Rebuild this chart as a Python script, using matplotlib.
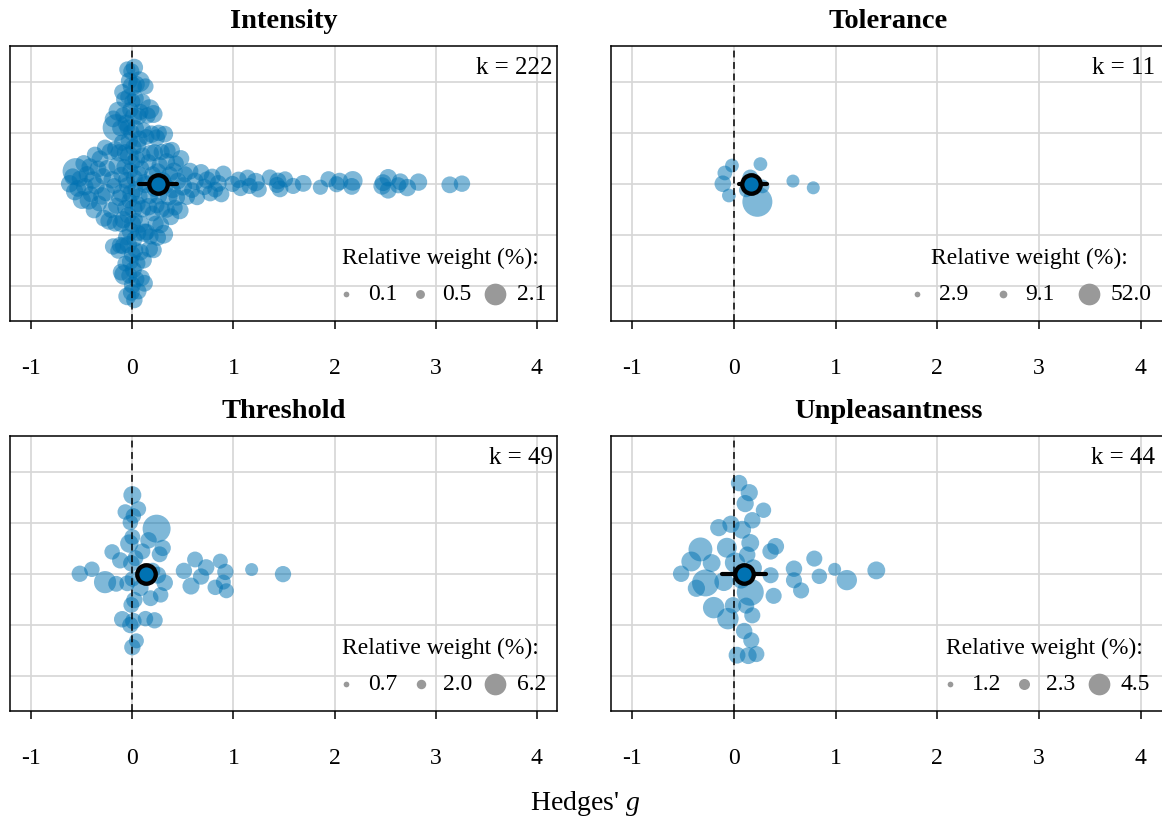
import numpy as np
import matplotlib.pyplot as plt

plt.rcParams['font.family'] = ['Liberation Serif', 'DejaVu Serif']
plt.rcParams['mathtext.fontset'] = 'custom'
plt.rcParams['mathtext.rm'] = 'Liberation Serif'
plt.rcParams['mathtext.it'] = 'Liberation Serif:italic'

# effect sizes (Hedges' g) and relative weights (%) per outcome
intensity_g = [
    -0.62, -0.59,
    -0.57, -0.56, -0.54,
    -0.52, -0.50, -0.48,
    -0.47, -0.45, -0.43,
    -0.42, -0.41, -0.39, -0.38,
    -0.37, -0.36, -0.34, -0.33,
    -0.32, -0.30, -0.29, -0.28,
    -0.27, -0.26, -0.25, -0.23,
    -0.22, -0.21, -0.20, -0.19, -0.19, -0.18,
    -0.17, -0.17, -0.16, -0.16, -0.15, -0.14, -0.14, -0.13, -0.13,
    -0.12, -0.12, -0.11, -0.11, -0.11, -0.10, -0.10, -0.10, -0.09, -0.09, -0.09,
    -0.08, -0.08, -0.08,
    -0.07, -0.07, -0.07, -0.06, -0.06, -0.06, -0.05, -0.05, -0.05, -0.05,
    -0.04, -0.04, -0.04, -0.03, -0.03, -0.03, -0.03, -0.03,
    -0.02, -0.02, -0.02, -0.02, -0.01, -0.01, -0.01, -0.01, 0.00, 0.00, 0.00,
    0.00, 0.00, 0.00, 0.01, 0.01, 0.01, 0.01, 0.02, 0.02, 0.02, 0.02,
    0.03, 0.03, 0.03, 0.03, 0.04, 0.04, 0.04, 0.04, 0.05, 0.05, 0.05,
    0.06, 0.06, 0.06, 0.06, 0.07, 0.07, 0.07,
    0.08, 0.08, 0.08, 0.09, 0.09, 0.10, 0.10, 0.10, 0.11, 0.11, 0.12, 0.12, 0.12,
    0.13, 0.13, 0.14, 0.14, 0.15, 0.16, 0.16, 0.17, 0.17, 0.17,
    0.18, 0.18, 0.19, 0.20, 0.20, 0.21, 0.21, 0.22, 0.22,
    0.23, 0.24, 0.24, 0.25, 0.25, 0.26, 0.26, 0.27,
    0.28, 0.29, 0.29, 0.30, 0.31, 0.32,
    0.33, 0.34, 0.34, 0.35, 0.36, 0.37,
    0.38, 0.39, 0.40, 0.41, 0.42,
    0.43, 0.44, 0.45, 0.47,
    0.48, 0.50, 0.52,
    0.54, 0.57, 0.59, 0.62, 0.64, 0.68, 0.71, 0.74, 0.77, 0.79, 0.82, 0.85,
    0.88, 0.90, 0.99, 1.05, 1.07, 1.14, 1.16, 1.22, 1.25, 1.36,
    1.43, 1.44, 1.46, 1.51, 1.59, 1.69, 1.86, 1.94, 2.02, 2.05,
    2.17, 2.18, 2.47, 2.48, 2.53, 2.53, 2.63, 2.65, 2.72, 2.83, 3.14, 3.26,
]
intensity_w = [
    0.30, 0.25,
    0.30, 1.90, 0.25,
    0.20, 0.35, 0.25,
    0.30, 0.22, 0.40,
    0.25, 0.20, 0.30, 0.22,
    0.20, 0.30, 0.25, 0.18,
    0.25, 0.32, 0.20, 0.25,
    0.20, 0.30, 0.26, 0.30,
    0.25, 0.20, 0.30, 0.22, 0.25, 0.18,
    0.20, 0.25, 2.10, 0.20, 0.30, 0.18, 0.50, 0.22, 0.30,
    0.25, 0.20, 0.30, 0.18, 0.25, 0.20, 0.40, 0.22, 0.25, 0.20, 0.30,
    0.18, 0.60, 0.22,
    0.20, 0.25, 0.18, 0.30, 0.22, 0.25, 0.35, 0.20, 0.25, 0.18,
    0.30, 0.20, 0.25, 0.45, 0.20, 0.25, 0.18, 0.30,
    0.25, 0.20, 0.30, 0.18, 0.25, 0.20, 0.35, 0.22, 0.25, 0.20, 0.30,
    0.18, 0.25, 0.50, 0.40, 0.22, 0.25, 0.30, 0.20, 0.25, 0.22, 0.30,
    0.20, 0.30, 0.18, 0.25, 0.10, 0.30, 0.20, 0.25, 0.22, 0.35, 0.20,
    0.25, 0.18, 0.30, 0.20, 0.70, 0.22, 0.25,
    0.25, 0.20, 0.30, 0.18, 0.25, 0.22, 0.30, 0.20, 0.25, 0.18, 0.40, 0.20, 0.25,
    0.20, 0.30, 0.18, 0.25, 0.22, 0.30, 0.20, 0.25, 0.55, 0.30,
    0.25, 0.20, 0.30, 0.18, 0.25, 0.22, 0.35, 0.20, 0.25,
    0.20, 0.25, 0.18, 0.30, 0.25, 0.22, 0.25, 0.20,
    0.25, 0.20, 0.22, 0.30, 0.45, 0.25,
    0.20, 0.25, 0.20, 0.18, 0.30, 0.22,
    0.25, 0.22, 0.20, 0.30, 0.18,
    0.20, 0.22, 0.25, 0.30,
    0.25, 0.40, 0.20,
    0.20, 0.25, 0.18, 0.30, 0.20, 0.25, 0.22, 0.30, 0.20, 0.25, 0.18, 0.25,
    0.20, 0.22, 0.20, 0.22, 0.20, 0.22, 0.20, 0.40, 0.20, 0.20,
    0.20, 0.25, 0.25, 0.20, 0.20, 0.25, 0.15, 0.20, 0.20, 0.30,
    0.25, 0.55, 0.30, 0.25, 0.25, 0.30, 0.20, 0.25, 0.30, 0.30, 0.25, 0.22,
]

tolerance_g = [-0.11, -0.09, -0.05, -0.02, 0.12, 0.16, 0.23, 0.26, 0.28, 0.58, 0.78]
tolerance_w = [5.1, 3.4, 3.0, 3.0, 3.2, 4.1, 52.0, 3.0, 3.0, 2.9, 2.9]

threshold_g = [
    -0.52, -0.40, -0.27, -0.20, -0.16, -0.12, -0.10, -0.07, -0.05, -0.03,
    -0.02, -0.02, -0.01, -0.01, 0.00, 0.00, 0.00, 0.00, 0.01, 0.01,
    0.02, 0.03, 0.04, 0.06, 0.08, 0.10, 0.13, 0.16, 0.18, 0.20,
    0.22, 0.24, 0.25, 0.27, 0.28, 0.30, 0.32, 0.51, 0.58, 0.62,
    0.68, 0.73, 0.82, 0.87, 0.90, 0.92, 0.93, 1.18, 1.49,
]
threshold_w = [
    0.97, 0.85, 2.75, 0.85, 0.90, 0.97, 1.00, 0.85, 0.90, 1.40,
    0.97, 0.85, 0.90, 1.00, 0.97, 1.30, 0.85, 0.90, 1.00, 0.85,
    0.97, 0.90, 0.80, 0.85, 0.97, 0.90, 0.85, 1.00, 0.90, 0.85,
    0.97, 6.20, 1.10, 0.90, 0.85, 0.97, 1.00, 0.97, 1.10, 0.90,
    0.97, 1.00, 0.85, 0.80, 0.80, 0.97, 0.80, 0.70, 0.97,
]

unpleasant_g = [
    -0.52, -0.42, -0.37, -0.33, -0.28, -0.22, -0.20, -0.15, -0.10, -0.07,
    -0.06, -0.03, -0.01, 0.01, 0.03, 0.05, 0.07, 0.08, 0.10, 0.11,
    0.12, 0.13, 0.14, 0.15, 0.16, 0.16, 0.17, 0.18, 0.18, 0.19,
    0.22, 0.29, 0.36, 0.36, 0.39, 0.41, 0.59, 0.59, 0.66, 0.79,
    0.84, 0.99, 1.11, 1.40,
]
unpleasant_w = [
    1.40, 2.00, 1.50, 3.20, 4.50, 1.60, 2.40, 1.50, 1.80, 2.00,
    2.40, 1.50, 1.40, 2.10, 1.45, 1.40, 1.50, 1.60, 1.40, 1.50,
    1.36, 1.40, 1.45, 1.50, 4.50, 1.60, 1.36, 1.40, 1.36, 1.50,
    1.36, 1.30, 1.36, 1.40, 1.36, 1.45, 1.36, 1.40, 1.36, 1.36,
    1.30, 1.20, 2.10, 1.60,
]

titles = ["Intensity", "Tolerance", "Threshold", "Unpleasantness"]
effects = [intensity_g, tolerance_g, threshold_g, unpleasant_g]
weights = [intensity_w, tolerance_w, threshold_w, unpleasant_w]
estimate = [0.25, 0.17, 0.14, 0.095]
ci_lb = [0.07, 0.05, 0.06, -0.12]
ci_ub = [0.44, 0.32, 0.22, 0.31]
weight_breaks = [[0.1, 0.5, 2.1], [2.9, 9.1, 52.0], [0.7, 2.0, 6.2], [1.2, 2.3, 4.5]]
x_ticks = [-1, 0, 1, 2, 3, 4]
x_ticklabels = ["-1", "0", "1", "2", "3", "4"]

for g_, w_ in zip(effects, weights):
    assert len(g_) == len(w_)

# layout in pixels: (left, top, right, bottom) of each panel
W, H = 1162, 823
panel_px = [(10, 46, 557, 321), (611, 46, 1166, 321),
            (10, 436, 557, 711), (611, 436, 1166, 711)]
panel_xlim = [(-1.21, 4.2), (-1.21, 4.25), (-1.21, 4.2), (-1.21, 4.25)]
swarm_width = [2.4, 0.5, 1.65, 2.0]
max_diam = [27.0, 30.0, 28.0, 27.0]
k_right_px = [553, 1155, 553, 1155]
legend_right_px = [546, 1152, 546, 1150]

blue = '#0072B2'


def van_der_corput(n):
    seq = np.zeros(n)
    for i in range(1, n + 1):
        k, denom, v = i, 1.0, 0.0
        while k > 0:
            denom *= 2
            k, r = divmod(k, 2)
            v += r / denom
        seq[i - 1] = v
    return seq


def quasirandom(values, width):
    # quasirandom beeswarm offsets (density scaled van der Corput sequence)
    y = np.asarray(values, float)
    n = len(y)
    sd = y.std(ddof=1)
    q75, q25 = np.percentile(y, [75, 25])
    lo = min(sd, (q75 - q25) / 1.34) or sd
    bw = 0.9 * lo * n ** -0.2
    grid = np.linspace(y.min() - 3 * bw, y.max() + 3 * bw, 512)

    def kde(t):
        return np.exp(-0.5 * ((t[:, None] - y[None, :]) / bw) ** 2).sum(axis=1)

    dens = kde(y) / kde(grid).max()
    rank = np.argsort(np.argsort(y, kind='stable'), kind='stable')
    vdc = van_der_corput(n)[rank]
    return -(vdc * 2 - 1) * dens * width


def point_diam(w, breaks, dmin=13.0, dmax=27.0):
    lo, hi = min(breaks), max(breaks)
    r = np.clip((np.asarray(w, float) - lo) / (hi - lo), 0, 1)
    return dmin + (dmax - dmin) * np.sqrt(r)


def key_diam(w, breaks, dmin=5.7, dmax=21.7):
    lo, hi = min(breaks), max(breaks)
    return dmin + (dmax - dmin) * (w - lo) / (hi - lo)


fig = plt.figure(figsize=(W / 100, H / 100), dpi=100)
renderer = fig.canvas.get_renderer()


def text_width(s, size):
    t = fig.text(0, 0, s, size=size)
    w = t.get_window_extent(renderer).width
    t.remove()
    return w


for i in range(4):
    l, t, r, b = panel_px[i]
    ax = fig.add_axes([l / W, 1 - b / H, (r - l) / W, (b - t) / H])
    ax.set_xlim(*panel_xlim[i])
    ax.set_ylim(-2.69, 2.70)
    ax.set_xticks(x_ticks)
    ax.set_xticklabels(x_ticklabels)
    ax.set_yticks([-2, -1, 0, 1, 2])
    ax.tick_params(axis='y', length=0, labelleft=False)
    ax.tick_params(axis='x', direction='out', length=6, width=1.1,
                   labelsize=17, pad=21)
    ax.grid(True, color='#d6d6d6', lw=1.2, zorder=0)
    ax.set_axisbelow(True)
    for sp in ax.spines.values():
        sp.set_linewidth(1.1)

    g = np.array(effects[i])
    w = np.array(weights[i])
    yoff = quasirandom(g, swarm_width[i])
    d = point_diam(w, weight_breaks[i], dmax=max_diam[i])
    ax.scatter(g, yoff, s=(d * 0.72) ** 2, color=blue, alpha=0.5,
               linewidths=0, zorder=2)

    ax.axvline(0, color='black', lw=1.1, ls=(0, (4.5, 3)), zorder=3)

    ax.plot([ci_lb[i], ci_ub[i]], [0, 0], color='black', lw=3.0,
            solid_capstyle='round', zorder=4)
    ax.scatter([estimate[i]], [0], s=(18.5 * 0.72) ** 2, color=blue,
               edgecolors='black', linewidths=3.1, zorder=5)

    # panel title and number of effect sizes
    fig.text((l + r) / 2 / W, 1 - (t - 18) / H, titles[i], ha='center',
             va='baseline', size=20.5, weight='bold')
    fig.text(k_right_px[i] / W, 1 - (t + 22) / H, f"k = {len(g)}",
             ha='right', va='center', size=18)

    # weight legend
    labels = [f"{v:.1f}" for v in weight_breaks[i]]
    lab_w = max(text_width(s, 17) for s in labels)
    step = 22 + 11 + lab_w + 12
    row_w = 3 * (22 + 11 + lab_w) + 2 * 12
    row_left = legend_right_px[i] - row_w
    row_y = 1 - (t + 248) / H
    for j, v in enumerate(weight_breaks[i]):
        cx = row_left + 11 + j * step
        fig.add_artist(plt.Line2D([cx / W], [row_y], marker='o', ls='none',
                                  ms=key_diam(v, weight_breaks[i]) * 0.72,
                                  mfc='#999999', mec='none'))
        fig.text((cx + 22) / W, row_y, labels[j], ha='left', va='center',
                 size=17)
    fig.text((row_left + legend_right_px[i]) / 2 / W, 1 - (t + 212) / H,
             "Relative weight (%):", ha='center', va='center', size=17)

fig.text(585 / W, 1 - 803 / H, "Hedges' $g$", ha='center', va='center',
         size=20)

fig.savefig('out.png', dpi=100)
